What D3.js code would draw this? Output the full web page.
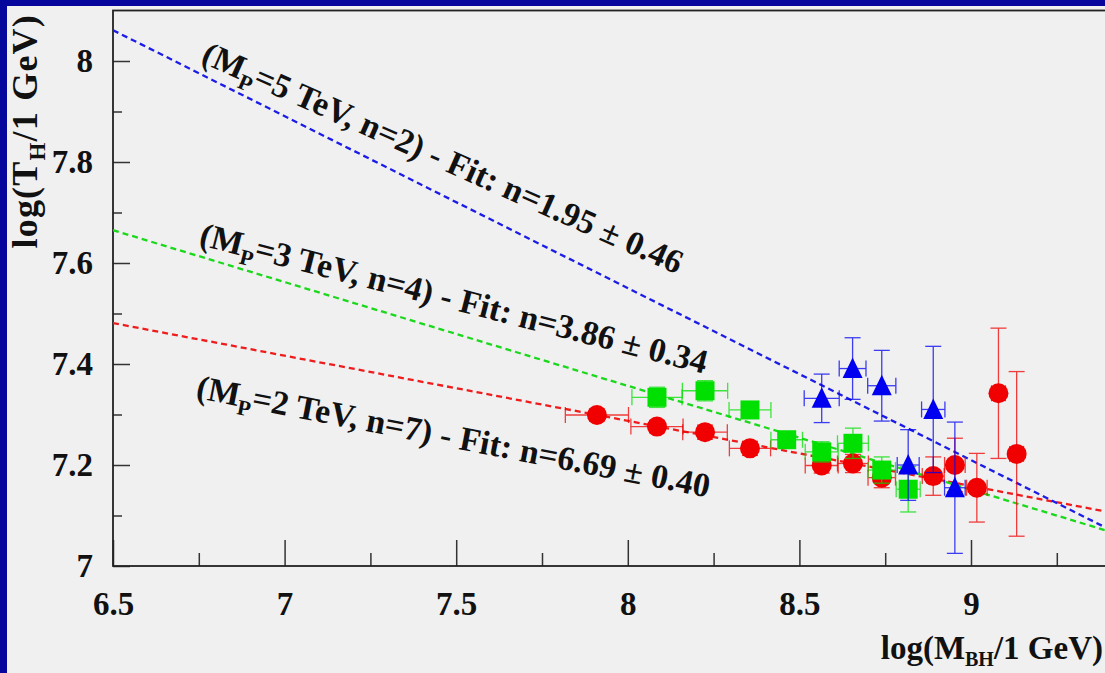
<!DOCTYPE html>
<html>
<head>
<meta charset="utf-8">
<script src="https://cdn.jsdelivr.net/npm/d3@7"></script>
<style>
  html, body { margin: 0; padding: 0; background: #06069c; }
  svg { display: block; }
  text { font-family: "Liberation Serif", "Times New Roman", serif; font-weight: bold; fill: #111; }
</style>
</head>
<body>
<svg id="chart" width="1105" height="673"></svg>
<script>
// ---- data: log10 of black-hole mass vs log10 of Hawking temperature ----
// M_P = 2 TeV, n = 7
const redX    = [7.910, 8.085, 8.225, 8.356, 8.565, 8.656, 8.740, 8.890, 8.953, 9.017, 9.080, 9.133];
const redY    = [7.299, 7.276, 7.265, 7.233, 7.199, 7.203, 7.175, 7.178, 7.200, 7.155, 7.342, 7.222];
const redXErr = [0.092, 0.076, 0.065, 0.060, 0.048, 0.045, 0.040, 0.032, 0.030, 0.030, 0.020, 0.020];
const redYErr = [0.012, 0.012, 0.014, 0.014, 0.015, 0.018, 0.020, 0.038, 0.053, 0.068, 0.129, 0.163];

// M_P = 3 TeV, n = 4
const greenX    = [8.085, 8.225, 8.356, 8.463, 8.565, 8.656, 8.740, 8.817];
const greenY    = [7.334, 7.347, 7.309, 7.250, 7.226, 7.243, 7.190, 7.152];
const greenXErr = [0.073, 0.066, 0.061, 0.046, 0.048, 0.045, 0.040, 0.035];
const greenYErr = [0.020, 0.020, 0.016, 0.016, 0.020, 0.030, 0.026, 0.045];

// M_P = 5 TeV, n = 2
const blueX    = [8.565, 8.655, 8.740, 8.817, 8.890, 8.953];
const blueY    = [7.332, 7.391, 7.357, 7.200, 7.310, 7.155];
const blueXErr = [0.051, 0.039, 0.041, 0.032, 0.034, 0.030];
const blueYErr = [0.048, 0.061, 0.070, 0.070, 0.125, 0.130];

// straight-line fits: value at log(M)=6.5 and slope (red, green, blue)
const fitAt65  = [7.481, 7.665, 8.061];
const fitSlope = [-0.129, -0.2055, -0.3405];

// fit labels (red, green, blue)
const labelMp  = ["2", "3", "5"];
const labelN   = ["7", "4", "2"];
const labelFit = ["6.69 \u00b1 0.40", "3.86 \u00b1 0.34", "1.95 \u00b1 0.46"];

// axis ticks
const xMajorTicks = [6.5, 7, 7.5, 8, 8.5, 9];
const xMinorTicks = [6.75, 7.25, 7.75, 8.25, 8.75, 9.25];
const yMajorTicks = [7, 7.2, 7.4, 7.6, 7.8, 8];
const yMinorTicks = [7.1, 7.3, 7.5, 7.7, 7.9];

// ---- drawing ----
const svg = d3.select("#chart");
const W = 1105, H = 673;
const FS = 33;
const LABEL_FS = 34;

const colors = { red: "#f00000", green: "#00e000", blue: "#0000f0" };
const lineColors = ["#ee1c1c", "#1cd81c", "#1c1ce8"];

// light panel inside the dark frame
svg.append("rect").attr("x", 7).attr("y", 6).attr("width", W - 7).attr("height", H - 6).attr("fill", "#f0f0f0");

const xScale = d3.scaleLinear().domain([6.5, 9.5]).range([113, 1142.6]);
const yScale = d3.scaleLinear().domain([7, 8.1]).range([566, 10.5]);
const [x0, x1] = xScale.range();
const [y0, y1] = yScale.range();

svg.append("clipPath").attr("id", "plotClip")
  .append("rect").attr("x", x0).attr("y", y1).attr("width", x1 - x0).attr("height", y0 - y1);

// axes (ticks point into the frame)
function styleAxis(g) {
  g.select(".domain").remove();
  g.selectAll(".tick line").attr("stroke", "#333").attr("stroke-width", 1.5);
  g.selectAll(".tick text").attr("font-size", FS).attr("fill", "#111")
    .attr("font-family", '"Liberation Serif", "Times New Roman", serif').attr("font-weight", "bold");
}
const fmt = d3.format(".1~f");

svg.append("g").attr("transform", `translate(0,${y0})`)
  .call(d3.axisBottom(xScale).tickValues(xMinorTicks).tickSizeInner(-13).tickSizeOuter(0).tickFormat(""))
  .call(styleAxis);
svg.append("g").attr("transform", `translate(0,${y0})`)
  .call(d3.axisBottom(xScale).tickValues(xMajorTicks).tickSizeInner(-26).tickSizeOuter(0).tickPadding(25.5).tickFormat(fmt))
  .call(styleAxis);

svg.append("g").attr("transform", `translate(${x0},0)`)
  .call(d3.axisLeft(yScale).tickValues(yMinorTicks).tickSizeInner(-9).tickSizeOuter(0).tickFormat(""))
  .call(styleAxis);
svg.append("g").attr("transform", `translate(${x0},0)`)
  .call(d3.axisLeft(yScale).tickValues(yMajorTicks).tickSizeInner(-17).tickSizeOuter(0).tickPadding(20).tickFormat(fmt))
  .call(styleAxis);

// frame
svg.append("rect").attr("x", x0).attr("y", y1).attr("width", x1 - x0).attr("height", y0 - y1)
  .attr("fill", "none").attr("stroke", "#222").attr("stroke-width", 1.8);

// fit lines
const fits = svg.append("g").attr("clip-path", "url(#plotClip)");
fitAt65.forEach((a, i) => {
  const line = d3.line().x(d => xScale(d)).y(d => yScale(a + fitSlope[i] * (d - 6.5)));
  fits.append("path").datum(xScale.domain())
    .attr("d", line)
    .attr("fill", "none").attr("stroke", lineColors[i]).attr("stroke-width", 2.3)
    .attr("stroke-dasharray", "6,4");
});

// error bars and markers
function drawSeries(xs, ys, xe, ye, color, shape) {
  const g = svg.append("g");
  const cap = 8;
  xs.forEach((xv, i) => {
    const cx = xScale(xv), cy = yScale(ys[i]);
    const xl = xScale(xv - xe[i]), xr = xScale(xv + xe[i]);
    const yt = yScale(ys[i] + ye[i]), yb = yScale(ys[i] - ye[i]);
    const eb = g.append("g").attr("stroke", color).attr("stroke-width", 1.3).attr("opacity", 0.75);
    eb.append("line").attr("x1", xl).attr("x2", xr).attr("y1", cy).attr("y2", cy);
    eb.append("line").attr("x1", xl).attr("x2", xl).attr("y1", cy - cap).attr("y2", cy + cap);
    eb.append("line").attr("x1", xr).attr("x2", xr).attr("y1", cy - cap).attr("y2", cy + cap);
    eb.append("line").attr("x1", cx).attr("x2", cx).attr("y1", yt).attr("y2", yb);
    eb.append("line").attr("x1", cx - cap).attr("x2", cx + cap).attr("y1", yt).attr("y2", yt);
    eb.append("line").attr("x1", cx - cap).attr("x2", cx + cap).attr("y1", yb).attr("y2", yb);
  });
  xs.forEach((xv, i) => {
    const cx = xScale(xv), cy = yScale(ys[i]);
    if (shape === "circle") {
      g.append("circle").attr("cx", cx).attr("cy", cy).attr("r", 10).attr("fill", color);
    } else if (shape === "square") {
      g.append("rect").attr("x", cx - 9.5).attr("y", cy - 9.5).attr("width", 19).attr("height", 19).attr("fill", color);
    } else {
      g.append("path").attr("transform", `translate(${cx},${cy})`)
        .attr("d", "M0,-11L10,9.5L-10,9.5Z").attr("fill", color);
    }
  });
}
drawSeries(redX, redY, redXErr, redYErr, colors.red, "circle");
drawSeries(greenX, greenY, greenXErr, greenYErr, colors.green, "square");
drawSeries(blueX, blueY, blueXErr, blueYErr, colors.blue, "triangle");

// fit labels, written along each line
const labelPos = [
  { x: 6.739, y: 7.333, angle: 11.0 },
  { x: 6.748, y: 7.636, angle: 14.3 },
  { x: 6.753, y: 7.998, angle: 24.0 }
];
labelPos.forEach((p, i) => {
  const t = svg.append("text")
    .attr("transform", `translate(${xScale(p.x)},${yScale(p.y)}) rotate(${p.angle})`)
    .attr("font-size", LABEL_FS);
  t.append("tspan").text("(M");
  t.append("tspan").attr("dy", 8).attr("font-size", 22).text("P");
  t.append("tspan").attr("dy", -8).text(`=${labelMp[i]} TeV, n=${labelN[i]}) - Fit: n=${labelFit[i]}`);
});

// axis titles
const yTitle = svg.append("text")
  .attr("transform", "translate(37,14) rotate(-90)")
  .attr("text-anchor", "end").attr("font-size", 36).attr("letter-spacing", 1.2);
yTitle.append("tspan").text("log(T");
yTitle.append("tspan").attr("dy", 8).attr("font-size", 23).text("H");
yTitle.append("tspan").attr("dy", -8).text("/1 GeV)");

const xTitle = svg.append("text")
  .attr("x", 1103).attr("y", 659)
  .attr("text-anchor", "end").attr("font-size", FS);
xTitle.append("tspan").text("log(M");
xTitle.append("tspan").attr("dy", 7).attr("font-size", 20).text("BH");
xTitle.append("tspan").attr("dy", -7).text("/1 GeV)");
</script>
</body>
</html>
